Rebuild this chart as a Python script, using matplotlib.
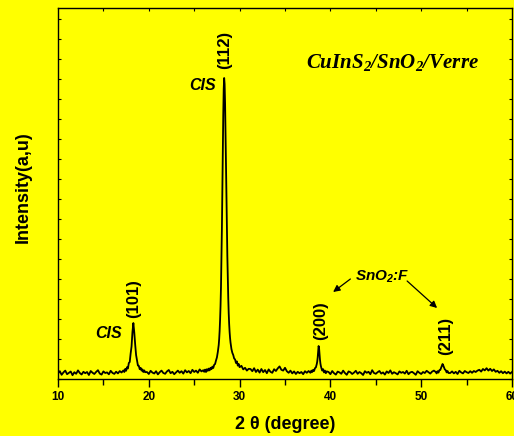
import matplotlib
matplotlib.use("Agg")
import matplotlib.pyplot as plt
from matplotlib.ticker import MultipleLocator

# ---- data (2theta in degrees, intensity in arbitrary counts) ----
seg_a_x = [10.0 + 0.2 * i for i in range(36)]            # 10.0 .. 17.0
seg_a_y = [55, 78, 42, 66, 84, 48, 62, 75, 38, 68,
           52, 86, 60, 45, 72, 58, 70, 40, 80, 63,
           50, 71, 88, 54, 44, 76, 60, 66, 47, 82,
           61, 51, 73, 56, 79, 65]

peak101_x = [17.2, 17.3, 17.4, 17.5, 17.6, 17.7, 17.8, 17.9, 18.0, 18.1, 18.2, 18.3,
             18.4, 18.5, 18.6, 18.7, 18.8, 18.9, 19.0, 19.1, 19.2, 19.3, 19.4, 19.5, 19.6]
peak101_y = [86, 70, 100, 82, 118, 105, 160, 170, 255, 325, 470, 560,
             465, 345, 240, 190, 135, 132, 98, 112, 84, 96, 70, 86, 68]

seg_c_x = [19.8 + 0.2 * i for i in range(32)]            # 19.8 .. 26.0
seg_c_y = [70, 50, 82, 64, 55, 78, 46, 68, 84, 60,
           52, 76, 90, 58, 72, 48, 66, 84, 62, 78,
           54, 88, 66, 80, 58, 92, 70, 84, 62, 96,
           76, 88]

peak112_x = [26.1, 26.2, 26.3, 26.4, 26.5, 26.6, 26.7, 26.8, 26.9, 27.0, 27.1, 27.2,
             27.3, 27.4, 27.5, 27.6, 27.7, 27.75, 27.8, 27.85, 27.9, 27.95, 28.0,
             28.05, 28.1, 28.15, 28.2, 28.25, 28.3, 28.35, 28.4, 28.45, 28.5, 28.55,
             28.6, 28.65, 28.7, 28.75, 28.8, 28.85, 28.9, 28.95, 29.0, 29.1, 29.2,
             29.3, 29.4, 29.5, 29.6, 29.7, 29.8, 29.9, 30.0, 30.2, 30.4, 30.6, 30.8, 31.0]
peak112_y = [72, 94, 70, 98, 82, 104, 86, 112, 98, 124, 110, 142,
             150, 185, 215, 270, 340, 400, 480, 590, 730, 920, 1180,
             1500, 1880, 2280, 2640, 2900, 3010, 2950, 2760, 2480, 2150, 1820,
             1510, 1230, 1000, 810, 660, 550, 470, 410, 365, 300, 262,
             240, 205, 196, 160, 176, 134, 150, 118, 132, 96, 112, 84, 102]

seg_e_x = [31.2 + 0.2 * i for i in range(33)]            # 31.2 .. 37.6
seg_e_y = [100, 78, 108, 70, 94, 64, 100, 68, 90, 58,
           96, 72, 62, 98, 80, 106, 126, 92, 84, 112,
           78, 62, 84, 56, 76, 50, 72, 58, 70, 48,
           78, 62, 80]

peak200_x = [37.8, 37.9, 38.0, 38.1, 38.2, 38.3, 38.4, 38.5, 38.55, 38.6, 38.65, 38.7,
             38.75, 38.8, 38.85, 38.9, 38.95, 39.0, 39.1, 39.2, 39.3, 39.4, 39.5, 39.6]
peak200_y = [62, 84, 70, 92, 80, 108, 116, 150, 175, 215, 270, 330,
             310, 250, 195, 155, 130, 112, 84, 98, 66, 84, 58, 76]

seg_g_x = [39.8 + 0.2 * i for i in range(60)]            # 39.8 .. 51.6
seg_g_y = [70, 48, 80, 58, 44, 74, 66, 52, 84, 60,
           42, 76, 68, 50, 64, 82, 52, 70, 58, 40,
           78, 62, 72, 48, 88, 60, 52, 68, 80, 54,
           66, 44, 76, 60, 86, 52, 68, 58, 46, 76,
           62, 70, 54, 82, 48, 66, 72, 58, 42, 78,
           62, 50, 70, 60, 82, 68, 54, 74, 84, 70]

peak211_x = [51.7, 51.8, 51.9, 52.0, 52.1, 52.2, 52.3, 52.35, 52.4, 52.5, 52.6, 52.7,
             52.8, 52.9, 53.0]
peak211_y = [56, 78, 64, 88, 90, 115, 140, 150, 142, 118, 96, 88, 66, 80, 60]

seg_i_x = [53.2 + 0.2 * i for i in range(35)]            # 53.2 .. 60.0
seg_i_y = [60, 76, 56, 72, 50, 82, 66, 56, 80, 68,
           60, 78, 62, 80, 70, 84, 92, 74, 100, 86,
           108, 84, 102, 80, 96, 72, 82, 62, 78, 58,
           74, 56, 72, 54, 70]

two_theta = (seg_a_x + peak101_x + seg_c_x + peak112_x + seg_e_x + peak200_x
             + seg_g_x + peak211_x + seg_i_x)
intensity = (seg_a_y + peak101_y + seg_c_y + peak112_y + seg_e_y + peak200_y
             + seg_g_y + peak211_y + seg_i_y)

x_ticks = [10, 20, 30, 40, 50, 60]
x_tick_labels = ["10", "20", "30", "40", "50", "60"]

# ---- styling ----
plt.rcParams["mathtext.fontset"] = "custom"
plt.rcParams["mathtext.rm"] = "Liberation Serif:bold:italic"
plt.rcParams["mathtext.it"] = "Liberation Serif:bold:italic"
plt.rcParams["mathtext.bf"] = "Liberation Serif:bold:italic"
plt.rcParams["mathtext.sf"] = "Liberation Sans:bold:italic"

YEL = "#FFFF00"
fig = plt.figure(figsize=(5.14, 4.36), dpi=100, facecolor=YEL)
ax = fig.add_axes([58 / 514, 1 - 379 / 436, (512 - 58) / 514, (379 - 8) / 436])
ax.set_facecolor(YEL)

ax.plot(two_theta, intensity, color="black", lw=1.3)

ax.set_xlim(10, 60)
ax.set_ylim(0, 3710)

for s in ax.spines.values():
    s.set_linewidth(1.0)

ax.set_xticks(x_ticks)
ax.set_xticklabels(x_tick_labels, fontfamily="Liberation Sans", fontweight="bold", fontsize=8.5)
ax.xaxis.set_minor_locator(MultipleLocator(5))
ax.tick_params(axis="x", which="major", direction="out", length=6, width=1.0, pad=3)
ax.tick_params(axis="x", which="minor", direction="out", length=4, width=1.0)
ax.tick_params(axis="x", top=False, which="both")
ax.yaxis.set_major_locator(MultipleLocator(200))
ax.tick_params(axis="y", which="major", direction="in", length=2, width=0.8,
               left=True, right=True, labelleft=False)
# top ticks drawn inward
secx = ax.secondary_xaxis("top")
secx.set_xticks([15, 20, 25, 30, 35, 40, 45, 50, 55])
secx.tick_params(direction="in", length=2, width=0.8, labeltop=False)
secx.spines["top"].set_visible(False)

ax.set_xlabel("2 θ (degree)", fontfamily="Liberation Sans", fontweight="bold", fontsize=13)
ax.xaxis.set_label_coords(0.5, -0.10)
ax.xaxis.label.set_va("top")
ax.set_ylabel("Intensity(a,u)", fontfamily="Liberation Sans", fontweight="bold", fontsize=13)
ax.yaxis.set_label_coords(-0.058, 0.516)

lab = dict(fontfamily="Liberation Sans", fontweight="bold", fontsize=12,
           rotation=90, ha="center", va="center")
ax.text(28.4, 3290, "(112)", **lab)
ax.text(18.3, 800, "(101)", **lab)
ax.text(38.9, 580, "(200)", **lab)
ax.text(52.7, 430, "(211)", **lab)

cis = dict(fontfamily="Liberation Sans", fontweight="bold", fontstyle="italic",
           fontsize=11.5, ha="center", va="center")
ax.text(15.6, 450, "CIS", **cis)
ax.text(25.9, 2940, "CIS", **cis)

ax.text(45.7, 1020, r"Sn$\mathsf{O_2}$:F", fontfamily="Liberation Sans", fontweight="bold",
        fontstyle="italic", fontsize=11, ha="center", va="center")
arr = dict(arrowstyle="-|>", color="black", lw=0.9, mutation_scale=10,
           shrinkA=0, shrinkB=0)
ax.annotate("", xy=(40.3, 870), xytext=(42.2, 1000), arrowprops=arr)
ax.annotate("", xy=(51.75, 710), xytext=(48.45, 980), arrowprops=arr)

ax.text(0.736, 0.852, r"CuInS$_2$/SnO$_2$/Verre", transform=ax.transAxes,
        fontfamily="Liberation Serif", fontweight="bold", fontstyle="italic",
        fontsize=15, ha="center", va="center")

fig.savefig("out.png", dpi=100, facecolor=YEL)
